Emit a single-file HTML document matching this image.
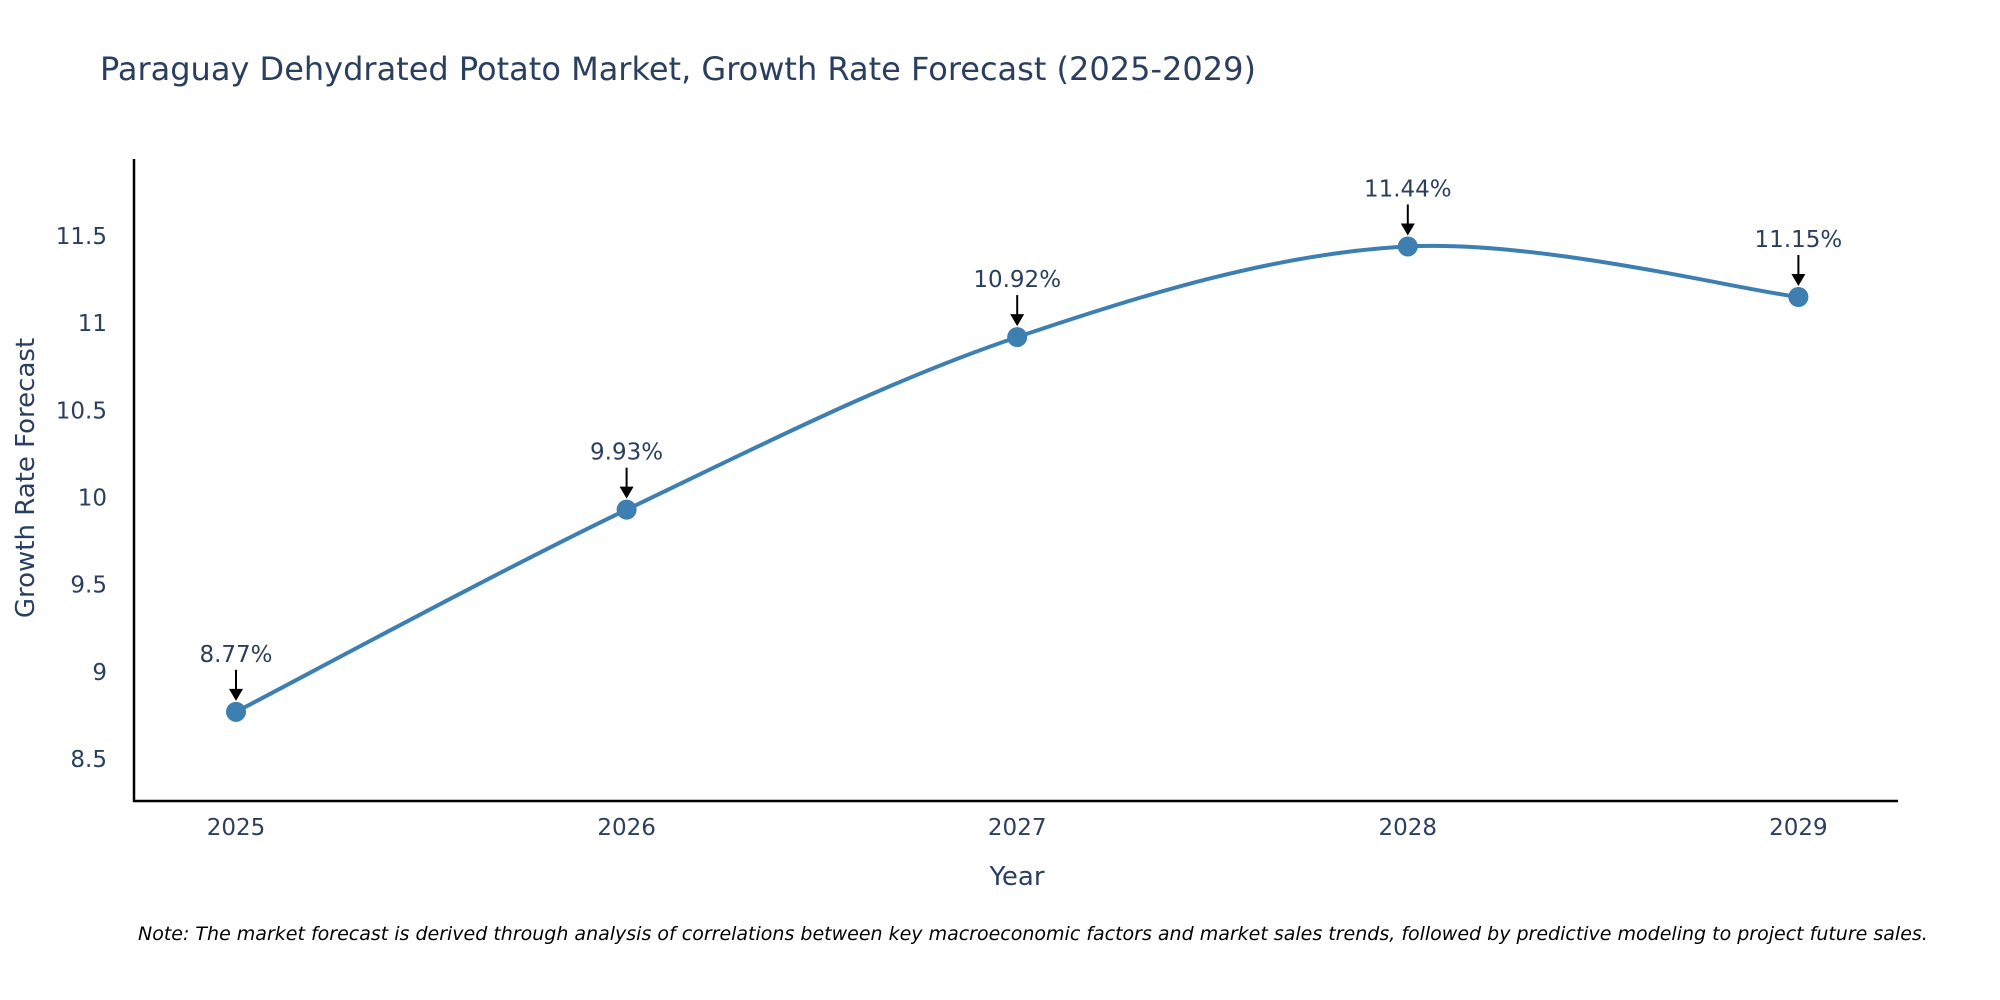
<!DOCTYPE html>
<html><head><meta charset="utf-8"><style>
body{margin:0;background:#fff;}
svg{display:block;font-family:"DejaVu Sans","Liberation Sans",sans-serif;}
</style></head><body>
<svg id="chart" width="2000" height="1000" viewBox="0 0 2000 1000">
<text x="100" y="80" font-size="32" fill="#2a3f5f">Paraguay Dehydrated Potato Market, Growth Rate Forecast (2025-2029)</text>
<g id="yticks"></g>
<g id="xticks"></g>
<line x1="134" y1="159" x2="134" y2="802" stroke="#000" stroke-width="2.5"/>
<line x1="133" y1="801" x2="1898" y2="801" stroke="#000" stroke-width="2.5"/>
<path id="line" fill="none" stroke="#3d7fb0" stroke-width="4"/>
<g id="marks"></g>
<text x="1017" y="885" font-size="26" fill="#2a3f5f" text-anchor="middle">Year</text>
<text transform="translate(34,478) rotate(-90)" font-size="26" fill="#2a3f5f" text-anchor="middle">Growth Rate Forecast</text>
<text x="138" y="940" font-size="19" font-style="italic" fill="#000">Note: The market forecast is derived through analysis of correlations between key macroeconomic factors and market sales trends, followed by predictive modeling to project future sales.</text>
</svg>
<script>
const years = [2025, 2026, 2027, 2028, 2029];
const values = [8.77, 9.93, 10.92, 11.44, 11.15];
const labels = ["8.77%", "9.93%", "10.92%", "11.44%", "11.15%"];
const yTicks = [8.5, 9, 9.5, 10, 10.5, 11, 11.5];
const yTickLabels = ["8.5", "9", "9.5", "10", "10.5", "11", "11.5"];

const NS = "http://www.w3.org/2000/svg";
const xs = y => 236 + (y - 2025) * 390.6;
const ys = v => 236 + (11.5 - v) * 174.3;
function mk(tag, attrs, parent, text){
  const e = document.createElementNS(NS, tag);
  for (const k in attrs) e.setAttribute(k, attrs[k]);
  if (text !== undefined) e.textContent = text;
  parent.appendChild(e); return e;
}
const yg = document.getElementById('yticks');
yTicks.forEach((t, i) => {
  const e = mk('text', {x: 107, y: ys(t) + 8, 'font-size': 23, fill: '#2a3f5f', 'text-anchor': 'end'}, yg, yTickLabels[i]);
  
  
});
const xg = document.getElementById('xticks');
years.forEach(y => {
  const e = mk('text', {x: xs(y), y: 835, 'font-size': 23, fill: '#2a3f5f', 'text-anchor': 'middle'}, xg, String(y));
  
  
});
const pts = years.map((y, i) => [xs(y), ys(values[i])]);
let d = `M${pts[0][0]},${pts[0][1]}`;
for (let i = 0; i < pts.length - 1; i++) {
  const p0 = pts[Math.max(0, i - 1)], p1 = pts[i], p2 = pts[i + 1], p3 = pts[Math.min(pts.length - 1, i + 2)];
  const c1 = [p1[0] + (p2[0] - p0[0]) / 6, p1[1] + (p2[1] - p0[1]) / 6];
  const c2 = [p2[0] - (p3[0] - p1[0]) / 6, p2[1] - (p3[1] - p1[1]) / 6];
  d += ` C${c1[0]},${c1[1]} ${c2[0]},${c2[1]} ${p2[0]},${p2[1]}`;
}
document.getElementById('line').setAttribute('d', d);
const mg = document.getElementById('marks');
pts.forEach((p, i) => {
  const c = mk('circle', {cx: p[0], cy: p[1], r: 10, fill: '#3d7fb0'}, mg);
  
  
  const l = mk('line', {x1: p[0], y1: p[1] - 42, x2: p[0], y2: p[1] - 20, stroke: '#000', 'stroke-width': 2}, mg);
  
  
  const h = mk('path', {d: `M${p[0]-7},${p[1]-23} L${p[0]+7},${p[1]-23} L${p[0]},${p[1]-11} Z`, fill: '#000'}, mg);
  
  
  const t = mk('text', {x: p[0], y: p[1] - 50, 'font-size': 23, fill: '#2a3f5f', 'text-anchor': 'middle'}, mg, labels[i]);
  
  
});
</script>
</body></html>
